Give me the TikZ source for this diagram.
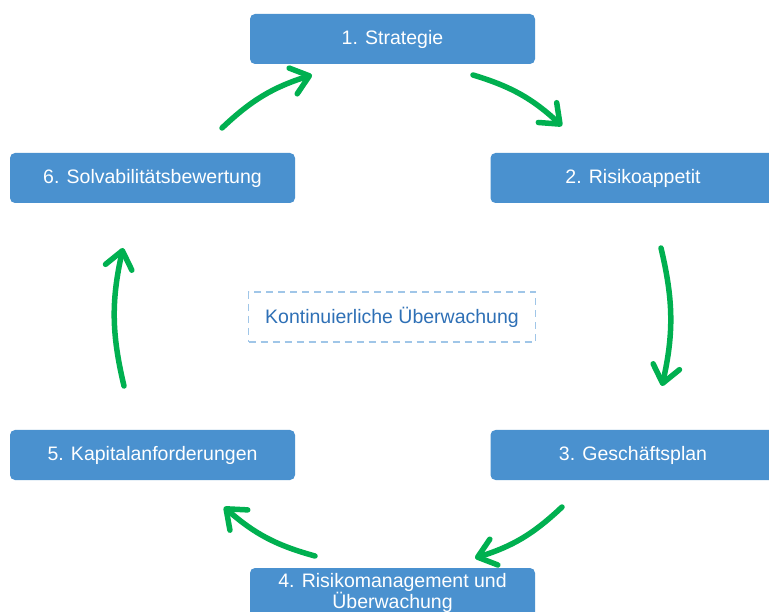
\documentclass[tikz,border=0pt]{standalone}
\usepackage{fontspec}
\setmainfont{Liberation Sans}
\usetikzlibrary{arrows.meta}
\definecolor{stepblue}{RGB}{74,145,207}
\definecolor{flowgreen}{RGB}{0,176,80}
\definecolor{dashblue}{RGB}{160,198,232}
\definecolor{notetext}{RGB}{46,112,182}
\tikzset{
  stepbox/.style={rectangle, rounded corners=5pt, fill=stepblue, text=white,
    minimum width=285pt, minimum height=50pt, inner sep=0pt, align=center,
    font=\fontsize{19.5}{20}\selectfont},
  notebox/.style={rectangle, draw=dashblue, dashed, dash pattern=on 7pt off 5pt,
    line width=1.5pt, text=notetext, minimum width=287pt, minimum height=50pt,
    inner sep=0pt, font=\fontsize{19.5}{20}\selectfont},
  cyclearrow/.style={draw=flowgreen, line width=5.5pt, line cap=round,
    -{Straight Barb[length=17pt,width=27pt,line width=5.5pt,round]}}
}
\begin{document}
\begin{tikzpicture}[x=1pt,y=1pt]
  \clip (0,0) rectangle (769,-612);
  \fill[white] (0,0) rectangle (769,-612);
  % process steps
  \node[stepbox] (s1) at (392.5,-39)  {1. Strategie};
  \node[stepbox] (s2) at (633,-178)   {2. Risikoappetit};
  \node[stepbox] (s3) at (633,-455)   {3. Geschäftsplan};
  \node[stepbox] (s4) at (392.5,-593) {4. Risikomanagement und\\Überwachung};
  \node[stepbox] (s5) at (152.5,-455) {5. Kapitalanforderungen};
  \node[stepbox] (s6) at (152.5,-178) {6. Solvabilitätsbewertung};
  \node[notebox] (mon) at (392,-317) {Kontinuierliche Überwachung};
  % arrow end points between the steps
  \coordinate (a1s) at (222,-128);  \coordinate (a1e) at (312,-75);
  \coordinate (a2s) at (473,-75);   \coordinate (a2e) at (562,-126);
  \coordinate (a3s) at (661,-248);  \coordinate (a3e) at (662,-386);
  \coordinate (a4s) at (562,-507);  \coordinate (a4e) at (475,-558);
  \coordinate (a5s) at (315,-556);  \coordinate (a5e) at (224,-507);
  \coordinate (a6s) at (124,-386);  \coordinate (a6e) at (123,-248);
  % cycle arrows
  \draw[cyclearrow] (a1s) to[bend left=13] (a1e);
  \draw[cyclearrow] (a2s) to[bend left=13] (a2e);
  \draw[cyclearrow] (a3s) to[bend left=13] (a3e);
  \draw[cyclearrow] (a4s) to[bend left=13] (a4e);
  \draw[cyclearrow] (a5s) to[bend left=13] (a5e);
  \draw[cyclearrow] (a6s) to[bend left=13] (a6e);
\end{tikzpicture}
\end{document}
